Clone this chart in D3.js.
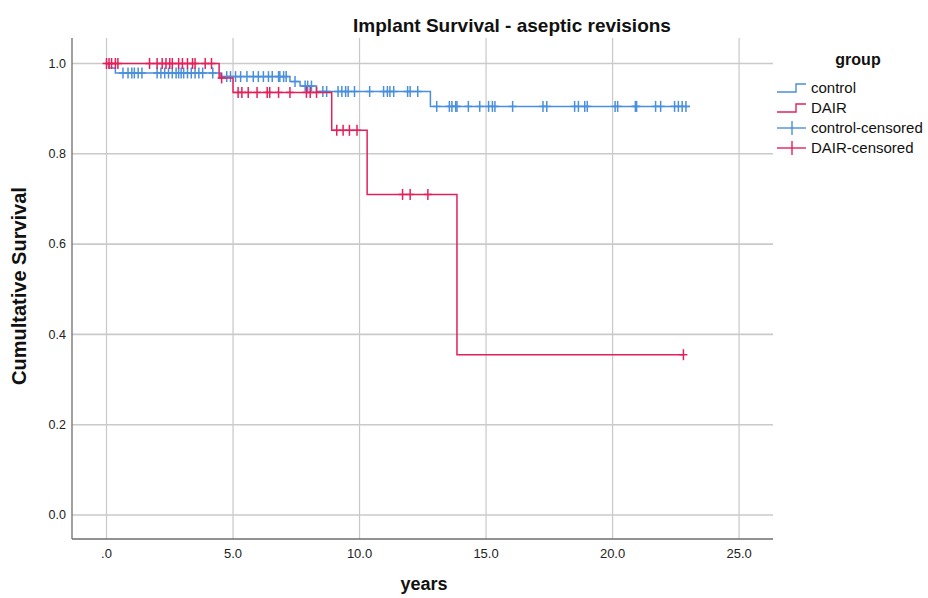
<!DOCTYPE html>
<html><head><meta charset="utf-8">
<script src="https://cdn.jsdelivr.net/npm/d3@7"></script>
<style>body{margin:0;background:#fff}svg{display:block}</style>
</head><body>
<svg id="c" width="928" height="598"></svg>
<script>
// ---- data ----
const groups = ["control", "DAIR"];
const xTicks = [0, 5, 10, 15, 20, 25];
const xTickLabels = [".0", "5.0", "10.0", "15.0", "20.0", "25.0"];
const yTicks = [0, 0.2, 0.4, 0.6, 0.8, 1.0];
const yTickLabels = ["0.0", "0.2", "0.4", "0.6", "0.8", "1.0"];
// step points: [time, survival]; last point = end of follow-up
const controlSteps = [[0,1],[0.1,0.99],[0.35,0.979],[4.5,0.971],[7.25,0.96],[7.65,0.95],[8.3,0.938],[12.8,0.905],[23.05,0.905]];
const dairSteps = [[0,1],[4.45,0.968],[5.0,0.936],[8.9,0.852],[10.3,0.71],[13.85,0.355],[22.8,0.355]];
const controlCensored = [0.65,0.85,1.0,1.1,1.25,1.4,2.0,2.15,2.3,2.45,2.6,2.75,2.85,2.95,3.05,3.2,3.35,3.5,3.65,3.8,4.2,
 4.75,4.9,5.1,5.3,5.55,5.8,6.0,6.2,6.4,6.55,6.8,6.85,7.0,7.1,7.45,7.85,7.95,8.1,
 8.55,8.7,9.15,9.3,9.45,9.55,9.8,10.4,10.95,11.1,11.2,11.35,11.9,12.0,12.3,
 13.05,13.55,13.65,13.8,13.85,14.3,14.75,15.1,15.25,15.35,16.05,17.25,17.4,18.5,18.65,18.9,19.0,20.1,20.2,20.9,20.95,21.7,21.9,22.45,22.6,22.75,22.9];
const dairCensored = [0.0,0.1,0.2,0.35,0.45,1.7,2.0,2.2,2.35,2.5,2.6,2.85,3.0,3.2,3.4,3.5,3.9,4.15,4.55,
 5.2,5.35,5.6,5.95,6.35,6.45,6.8,7.25,7.9,8.05,8.3,9.1,9.35,9.6,9.9,11.7,12.0,12.7,22.8];
const legendLabels = ["control", "DAIR", "control-censored", "DAIR-censored"];

const colors = {control: "#4a8fdb", DAIR: "#e2215a"};
const L = 72, R = 773, T = 38, B = 539;
const x = d3.scaleLinear().domain([-1.364, 26.34]).range([L, R]);
const y = d3.scaleLinear().domain([-0.0532, 1.0565]).range([B, T]);
const svg = d3.select("#c");
const font = "'Liberation Sans', Arial, sans-serif";

// grid
svg.append("g").selectAll("line").data(xTicks).join("line")
  .attr("x1", d => x(d)).attr("x2", d => x(d)).attr("y1", T).attr("y2", B)
  .attr("stroke", "#c8c8c8").attr("stroke-width", 1.2);
svg.append("g").selectAll("line").data(yTicks).join("line")
  .attr("x1", L).attr("x2", R).attr("y1", d => y(d)).attr("y2", d => y(d))
  .attr("stroke", "#cacaca").attr("stroke-width", 1.6);
// axes lines
svg.append("line").attr("x1", L).attr("x2", L).attr("y1", T).attr("y2", B).attr("stroke", "#6e6e6e").attr("stroke-width", 1.3);
svg.append("line").attr("x1", L).attr("x2", R).attr("y1", B).attr("y2", B).attr("stroke", "#6e6e6e").attr("stroke-width", 1.3);

// tick labels
svg.append("g").selectAll("text").data(yTicks).join("text")
  .attr("x", 66).attr("y", d => y(d)).attr("dy", "0.35em").attr("text-anchor", "end")
  .attr("font-family", font).attr("font-size", 12.5).attr("fill", "#222")
  .text((d, i) => yTickLabels[i]);
svg.append("g").selectAll("text").data(xTicks).join("text")
  .attr("x", d => x(d)).attr("y", 553).attr("dy", "0.35em").attr("text-anchor", "middle")
  .attr("font-family", font).attr("font-size", 13).attr("fill", "#222")
  .text((d, i) => xTickLabels[i]);

// titles
svg.append("text").attr("x", 512).attr("y", 25).attr("dy", "0.35em").attr("text-anchor", "middle")
  .attr("font-family", font).attr("font-weight", "bold").attr("font-size", 19).attr("fill", "#111")
  .text("Implant Survival - aseptic revisions");
svg.append("text").attr("transform", "translate(19,286) rotate(-90)").attr("dy", "0.35em").attr("text-anchor", "middle")
  .attr("font-family", font).attr("font-weight", "bold").attr("font-size", 20).attr("fill", "#111")
  .text("Cumultative Survival");
svg.append("text").attr("x", 424).attr("y", 590).attr("text-anchor", "middle")
  .attr("font-family", font).attr("font-weight", "bold").attr("font-size", 18).attr("fill", "#111")
  .text("years");

// curves
const line = d3.line().x(d => x(d[0])).y(d => y(d[1])).curve(d3.curveStepAfter);
function levelAt(steps, t) {
  let v = steps[0][1];
  for (const s of steps) { if (s[0] <= t) v = s[1]; }
  return v;
}
const series = [
  {name: "control", steps: controlSteps, cens: controlCensored},
  {name: "DAIR", steps: dairSteps, cens: dairCensored}
];
series.forEach(s => {
  const g = svg.append("g");
  g.append("path").attr("d", line(s.steps)).attr("fill", "none")
    .attr("stroke", colors[s.name]).attr("stroke-width", 1.5);
  const marks = g.selectAll("g.m").data(s.cens).join("g")
    .attr("transform", d => `translate(${x(d)},${y(levelAt(s.steps, d))})`);
  marks.append("line").attr("x1", 0).attr("x2", 0).attr("y1", -5.5).attr("y2", 5.5)
    .attr("stroke", colors[s.name]).attr("stroke-width", 1.5);
  marks.append("line").attr("x1", -4).attr("x2", 4).attr("y1", 0).attr("y2", 0)
    .attr("stroke", colors[s.name]).attr("stroke-width", 1.5);
});

// legend
svg.append("text").attr("x", 858).attr("y", 59).attr("dy", "0.35em").attr("text-anchor", "middle")
  .attr("font-family", font).attr("font-weight", "bold").attr("font-size", 16).attr("fill", "#111")
  .text("group");
const lg = svg.append("g");
legendLabels.forEach((lab, i) => {
  const cy = 88 + i * 20;
  const col = colors[groups[i % 2]];
  if (i < 2) {
    lg.append("path").attr("d", `M777,${cy + 4}H796V${cy - 4}H806`).attr("fill", "none")
      .attr("stroke", col).attr("stroke-width", 1.4);
  } else {
    lg.append("line").attr("x1", 777).attr("x2", 806).attr("y1", cy).attr("y2", cy).attr("stroke", col).attr("stroke-width", 1.4);
    lg.append("line").attr("x1", 792).attr("x2", 792).attr("y1", cy - 7).attr("y2", cy + 7).attr("stroke", col).attr("stroke-width", 1.4);
  }
  lg.append("text").attr("x", 811).attr("y", cy).attr("dy", "0.35em")
    .attr("font-family", font).attr("font-size", 15).attr("fill", "#111").text(lab);
});
</script>
</body></html>
